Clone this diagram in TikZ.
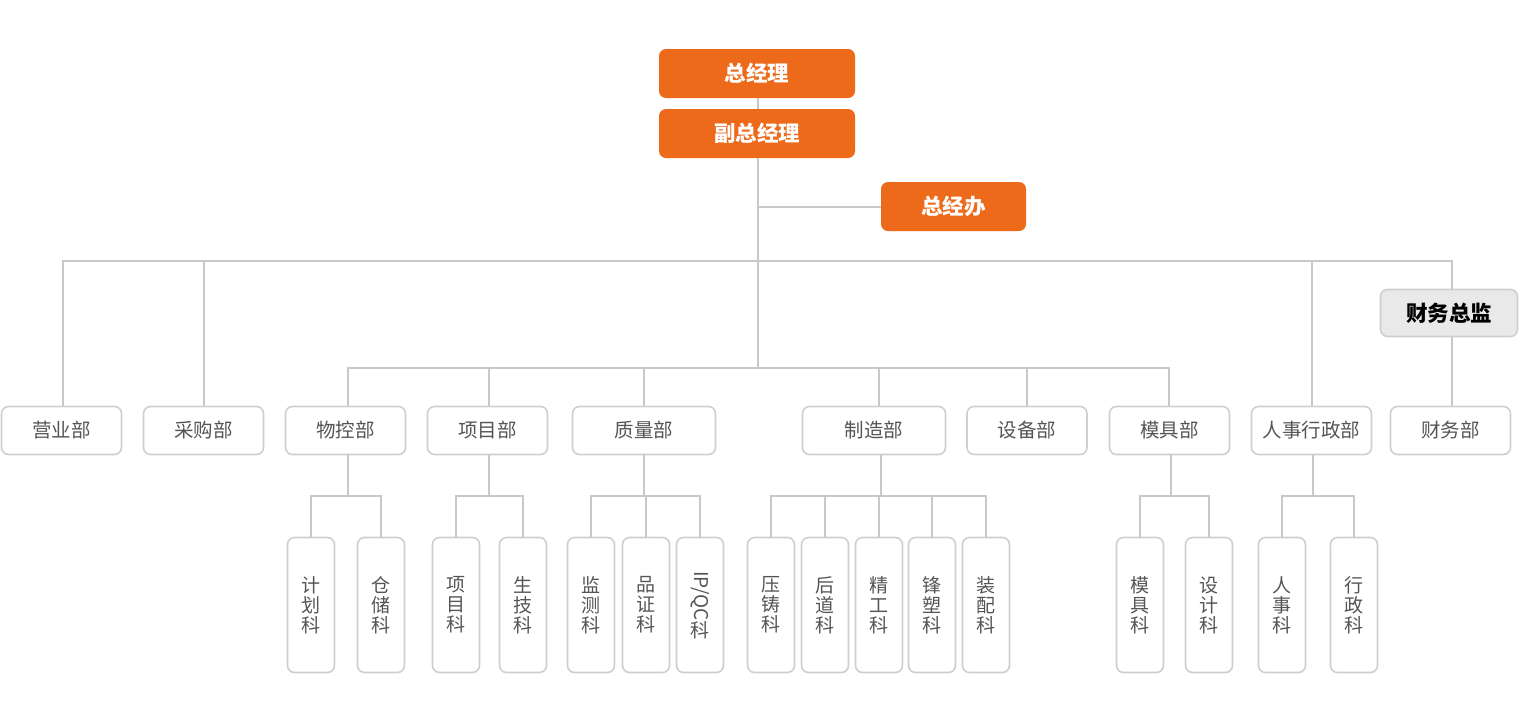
\documentclass[tikz,border=0pt]{standalone}
\usepackage{fontspec}
\setmainfont{Noto Sans CJK SC}
\usepackage{graphicx}
\definecolor{brandorange}{HTML}{EC6A1A}
\definecolor{linegray}{HTML}{C8C8C8}
\definecolor{boxgray}{HTML}{CFCFCF}
\definecolor{txtgray}{HTML}{555555}
\definecolor{headfill}{HTML}{E9E9E9}
\begin{document}
\begin{tikzpicture}[x=1pt,y=-1pt,
  link/.style={draw=linegray,line width=2pt},
  leader/.style={fill=brandorange,rounded corners=7pt,inner sep=0pt,
    minimum height=49pt,text=white,font=\fontsize{21.5}{23}\selectfont\bfseries},
  chief/.style={fill=headfill,draw=boxgray,line width=1.6pt,rounded corners=7pt,inner sep=0pt,
    minimum width=137pt,minimum height=47pt,text=black,font=\fontsize{21.5}{23}\selectfont\bfseries},
  dept/.style={draw=boxgray,fill=white,line width=1.6pt,rounded corners=7pt,inner sep=0pt,
    minimum width=120pt,minimum height=48pt,text=txtgray,font=\fontsize{19.5}{21}\selectfont},
  sect/.style={draw=boxgray,fill=white,line width=1.6pt,rounded corners=7pt,inner sep=0pt,
    minimum width=47pt,minimum height=135pt,text=txtgray,align=center,
    font=\fontsize{19}{20}\selectfont},
]
\useasboundingbox (0,0) rectangle (1520,705);

% top management
\node[leader,minimum width=196pt] (gm) at (757,73.5) {总经理};
\node[leader,minimum width=196pt] (dgm) at (757,133.5) {副总经理};
\node[leader,minimum width=145pt] (office) at (953.5,206.5) {总经办};
\node[chief] (cfo) at (1449,313) {财务总监};

% departments
\node[dept] (sales)  at (61.5,430.5)  {营业部};
\node[dept] (buy)    at (203.5,430.5) {采购部};
\node[dept] (mat)    at (345.5,430.5) {物控部};
\node[dept] (proj)   at (487.5,430.5) {项目部};
\node[dept,minimum width=143pt] (qual) at (644,430.5) {质量部};
\node[dept,minimum width=143pt] (mfg)  at (874,430.5) {制造部};
\node[dept] (equip)  at (1027,430.5)  {设备部};
\node[dept] (mold)   at (1169.5,430.5) {模具部};
\node[dept] (hr)     at (1311.5,430.5) {人事行政部};
\node[dept] (fin)    at (1450.5,430.5) {财务部};

% sections
\node[sect] (s1)  at (311,605)  {计\\划\\科};
\node[sect] (s2)  at (381,605)  {仓\\储\\科};
\node[sect] (s3)  at (456,605)  {项\\目\\科};
\node[sect] (s4)  at (523,605)  {生\\技\\科};
\node[sect] (s5)  at (591,605)  {监\\测\\科};
\node[sect] (s6)  at (646,605)  {品\\证\\科};
\node[sect] (s7)  at (700,605)  {\rotatebox{-90}{IP/QC}\\科};
\node[sect] (s8)  at (771,605)  {压\\铸\\科};
\node[sect] (s9)  at (825,605)  {后\\道\\科};
\node[sect] (s10) at (879,605)  {精\\工\\科};
\node[sect] (s11) at (932,605)  {锋\\塑\\科};
\node[sect] (s12) at (986,605)  {装\\配\\科};
\node[sect] (s13) at (1140,605) {模\\具\\科};
\node[sect] (s14) at (1209,605) {设\\计\\科};
\node[sect] (s15) at (1282,605) {人\\事\\科};
\node[sect] (s16) at (1354,605) {行\\政\\科};

% junction points of the trunk
\coordinate (busA) at (758,261);
\coordinate (busB) at (758,368);
\coordinate (rowC) at (0,496);

\draw[link] (gm.south -| busA) -- (dgm.north -| busA);
\draw[link] (dgm.south -| busA) -- (busB);
\draw[link] (office.west) -- (office.west -| busA);

% upper bus
\draw[link] (sales.north -| 63,0) |- (busA) -| (cfo.north -| 1452,0);
\draw[link] (buy.north -| 204,0) -- (busA -| 204,0);
\draw[link] (hr.north -| 1312,0) -- (busA -| 1312,0);
\draw[link] (cfo.south -| 1452,0) -- (fin.north -| 1452,0);

% lower bus
\draw[link] (mat.north -| 348,0) |- (busB) -| (mold.north -| 1169,0);
\draw[link] (proj.north -| 489,0) -- (busB -| 489,0);
\draw[link] (qual.north) -- (busB -| qual.north);
\draw[link] (mfg.north -| 879,0) -- (busB -| 879,0);
\draw[link] (equip.north) -- (busB -| equip.north);

% section branches
\draw[link] (mat.south -| 348,0) -- (348,496);
\draw[link] (s1.north) |- (348,496) -| (s2.north);
\draw[link] (proj.south -| 489,0) -- (489,496);
\draw[link] (s3.north) |- (489,496) -| (s4.north);
\draw[link] (qual.south) -- (qual.south |- rowC);
\draw[link] (s5.north) |- (644,496) -| (s7.north);
\draw[link] (s6.north) -- (s6.north |- rowC);
\draw[link] (mfg.south -| 881,0) -- (881,496);
\draw[link] (s8.north) |- (881,496) -| (s12.north);
\draw[link] (s9.north) -- (s9.north |- rowC);
\draw[link] (s10.north) -- (s10.north |- rowC);
\draw[link] (s11.north) -- (s11.north |- rowC);
\draw[link] (mold.south -| 1171,0) -- (1171,496);
\draw[link] (s13.north) |- (1171,496) -| (s14.north);
\draw[link] (hr.south -| 1313,0) -- (1313,496);
\draw[link] (s15.north) |- (1313,496) -| (s16.north);
\end{tikzpicture}
\end{document}
